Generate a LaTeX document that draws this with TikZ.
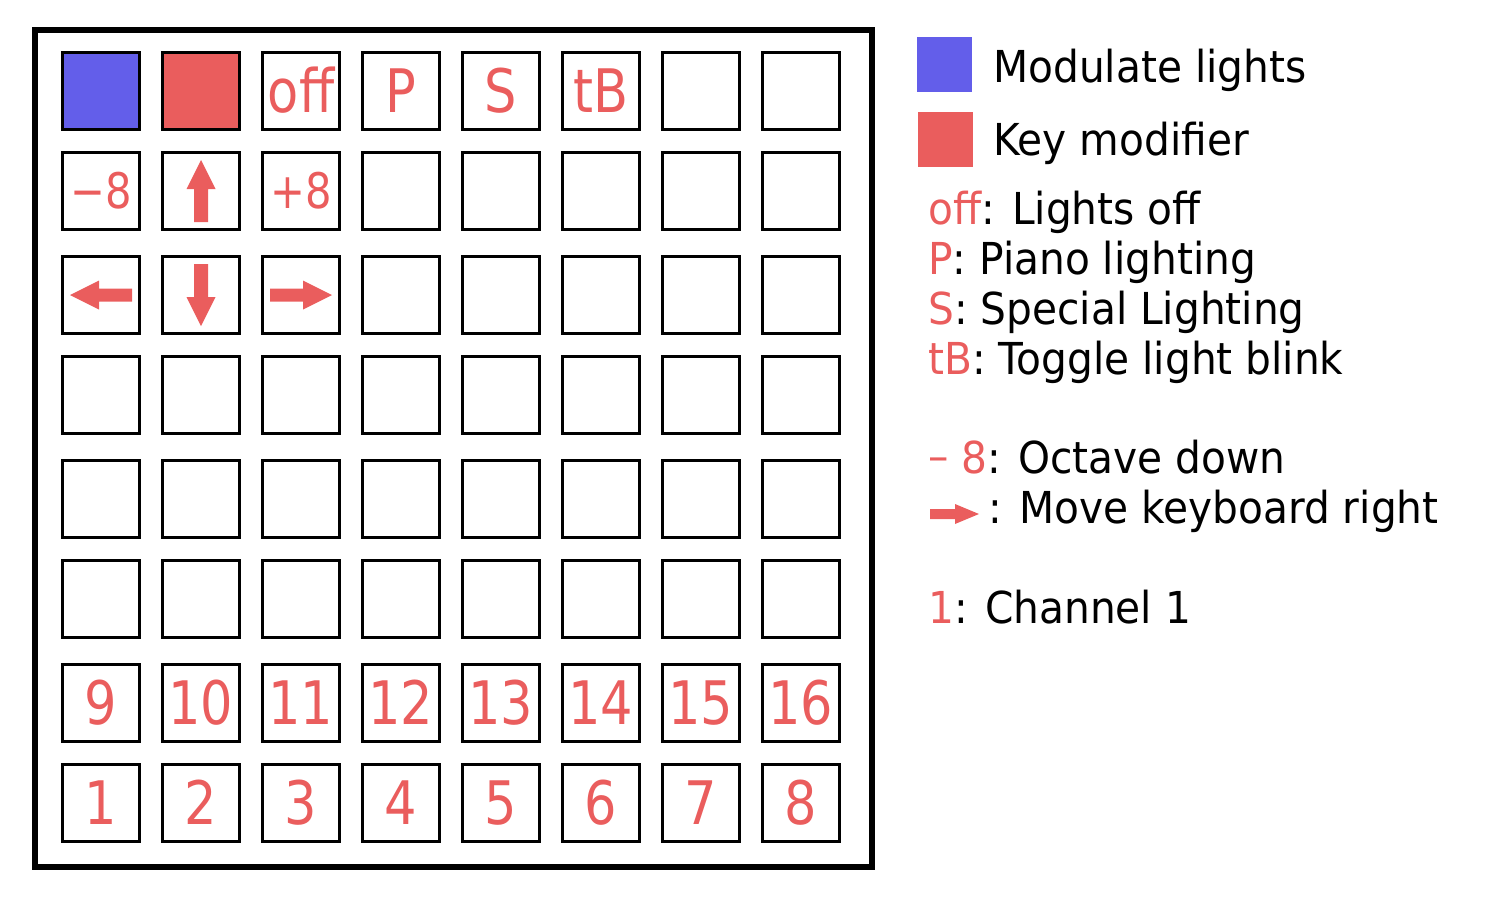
\documentclass[tikz,border=0pt]{standalone}
\usepackage{fontspec}
\setmainfont[FakeStretch=0.925]{DejaVu Sans}
\newfontfamily\cellfont[FakeStretch=0.85]{DejaVu Sans}
\definecolor{keyred}{RGB}{234,93,93}
\definecolor{modblue}{RGB}{99,94,234}
\begin{document}
\begin{tikzpicture}[x=1pt,y=-1pt,
  cellbox/.style={draw=black, line width=3pt, minimum width=77pt, minimum height=77pt,
    inner sep=0pt, text=keyred, font=\cellfont\fontsize{60}{60}\selectfont,
    text height=43.7pt, text depth=0pt},
  cellsmall/.style={cellbox, font=\cellfont\fontsize{49}{49}\selectfont,
    text height=35.5pt, text depth=0pt},
  legtext/.style={anchor=base west, inner sep=0pt, font=\fontsize{44}{50}\selectfont},
  legsquare/.style={minimum size=55pt, inner sep=0pt},
  arrowfill/.style={fill=keyred}]
\useasboundingbox (0,0) rectangle (1500,900);
% outer frame
\node[draw=black, line width=6pt, minimum width=837pt, minimum height=837pt, inner sep=0pt] (frame) at (453.5,448.5) {};
% row 1
\node[cellbox, fill=modblue] (c-1-1) at (101,91) {};
\node[cellbox, fill=keyred] (c-1-2) at (201,91) {};
\foreach \c/\t in {3/off,4/P,5/S,6/tB,7/,8/}
  \node[cellbox] (c-1-\c) at ({1+100*\c},91) {\t};
% row 2
\foreach \c/\t in {1/−8,2/,3/+8,4/,5/,6/,7/,8/}
  \node[cellsmall] (c-2-\c) at ({1+100*\c},191) {\t};
% rows 3-6 (empty)
\foreach \r/\y in {3/295,4/395,5/499,6/599}
  \foreach \c in {1,...,8}
    \node[cellbox] (c-\r-\c) at ({1+100*\c},\y) {};
% row 7 and 8 (channels)
\foreach \c in {1,...,8}{
  \pgfmathtruncatemacro\hi{\c+8}
  \node[cellbox] (c-7-\c) at ({1+100*\c},703) {\hi};
  \node[cellbox] (c-8-\c) at ({1+100*\c},803) {\c};
}
% block arrows in cells
\fill[arrowfill, shift={(c-2-2.center)}, rotate=90]
  (-31,-7) -- (2,-7) -- (2,-14.5) -- (31,0) -- (2,14.5) -- (2,7) -- (-31,7) -- cycle;
\fill[arrowfill, shift={(c-3-1.center)}, rotate=180]
  (-31,-6.5) -- (2,-6.5) -- (2,-14.5) -- (31,0) -- (2,14.5) -- (2,6.5) -- (-31,6.5) -- cycle;
\fill[arrowfill, shift={(c-3-2.center)}, rotate=-90]
  (-31,-7) -- (2,-7) -- (2,-14.5) -- (31,0) -- (2,14.5) -- (2,7) -- (-31,7) -- cycle;
\fill[arrowfill, shift={(c-3-3.center)}]
  (-31,-6.5) -- (2,-6.5) -- (2,-14.5) -- (31,0) -- (2,14.5) -- (2,6.5) -- (-31,6.5) -- cycle;
% legend
\node[legsquare, fill=modblue] (leg-blue) at (944.5,64.5) {};
\node[legsquare, fill=keyred] (leg-red) at (945,139) {};
\node[legtext] (leg-mod) at (993,82) {Modulate lights};
\node[legtext] (leg-key) at (993,155) {Key modifier};
\node[legtext] (leg-off) at (928,224) {\textcolor{keyred}{off}: Lights off};
\node[legtext] (leg-p) at (928,274) {\textcolor{keyred}{P}: Piano lighting};
\node[legtext] (leg-s) at (928,324) {\textcolor{keyred}{S}: Special Lighting};
\node[legtext] (leg-tb) at (928,374) {\textcolor{keyred}{tB}: Toggle light blink};
\node[legtext] (leg-oct) at (928,473) {\textcolor{keyred}{\raisebox{2pt}{–} 8}: Octave down};
\coordinate (leg-arrow) at (955,514);
\fill[arrowfill, shift={(leg-arrow)}]
  (-25,-5) -- (0,-5) -- (0,-10) -- (24,0) -- (0,10) -- (0,5) -- (-25,5) -- cycle;
\node[legtext] (leg-move) at (988,523) {: Move keyboard right};
\node[legtext] (leg-ch) at (928,623) {\textcolor{keyred}{1}: Channel 1};
\end{tikzpicture}
\end{document}
